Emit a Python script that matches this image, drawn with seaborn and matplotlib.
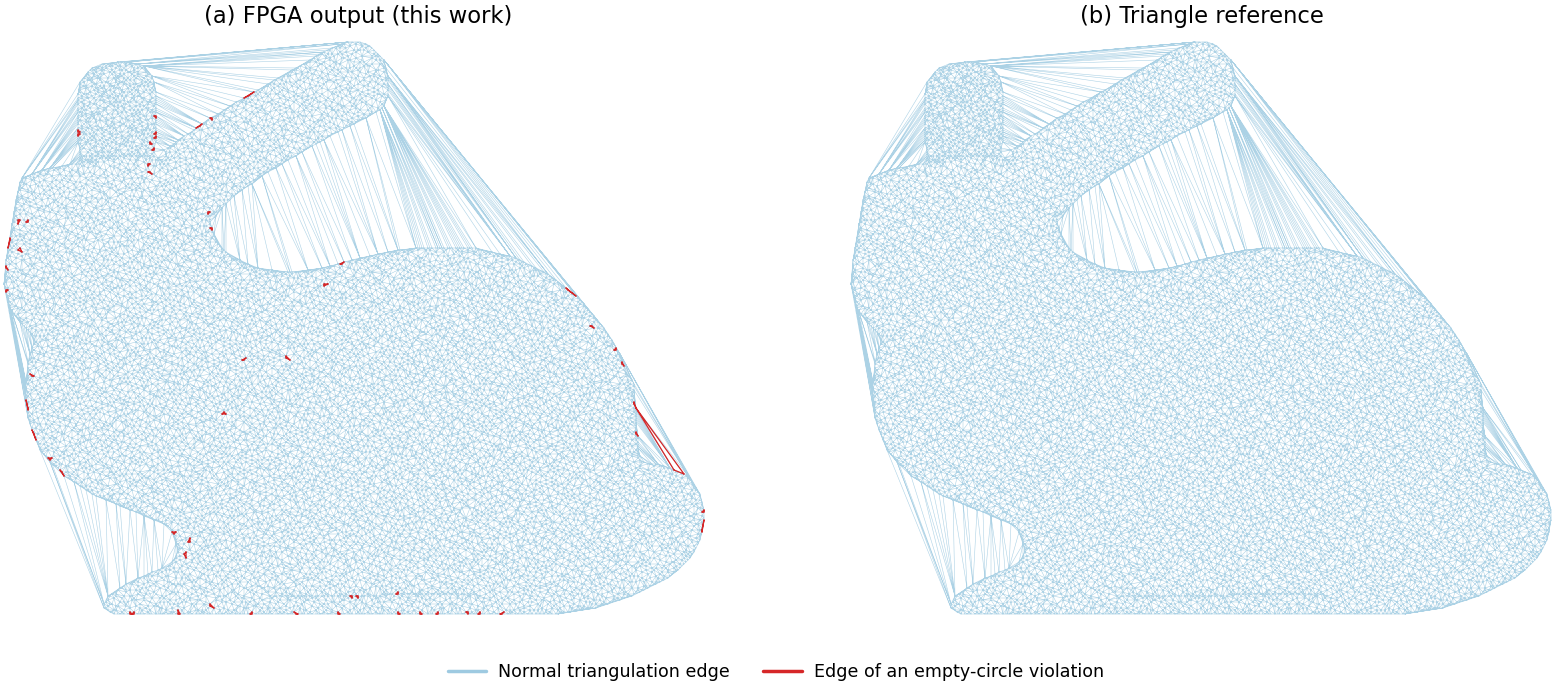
import numpy as np
import matplotlib
matplotlib.use("Agg")
import matplotlib.pyplot as plt
import matplotlib.tri as mtri
from matplotlib.path import Path
from matplotlib.lines import Line2D
import seaborn as sns

sns.set_theme(style="white")
plt.rcParams['font.family'] = ['DejaVu Sans']
plt.rcParams['text.color'] = 'black'

# ---------------- data (outline, pixel units, y down) ----------------
body_outline = [(22,178),(45,170),(75,164),(110,159),(150,157),(178,163),(198,178),(207,198),
                (210,222),(216,242),(232,258),(258,269),(290,273),(322,269),(355,260),(395,251),
                (435,247),(475,249),(515,258),(550,276),(580,300),(603,327),(619,354),(629,382),
                (635,412),(637,440),(640,462),(665,466),(688,477),(700,494),(704,515),(700,540),
                (688,561),(665,579),(632,595),(595,607),(560,613),(480,614),(380,614),(250,614),
                (150,614),(112,613),(104,607),(108,597),(122,587),(148,574),(170,566),(178,553),
                (176,537),(166,524),(135,511),(97,496),(65,476),(42,452),(30,425),(26,395),
                (28,365),(35,337),(22,325),(10,308),(5,285),(7,258),(12,230),(17,200)]
back_ear_outline = [(80,160),(78,130),(78,100),(81,82),(90,70),(105,64),(125,62),(143,66),
                    (152,76),(156,95),(156,125),(154,160)]
front_ear_outline = [(168,160),(165,150),(185,136),(215,116),(250,95),(290,72),(325,52),(345,43),
                     (360,42),(373,48),(383,60),(388,78),(388,96),(382,108),(368,116),(335,133),
                     (295,155),(260,177),(232,197),(215,215),(205,210)]
seams = [[(270,596),(380,595),(480,594)], [(80,157),(120,156),(154,157)],
         [(633,380),(636,420),(639,460)]]

# sites of empty-circle violations in panel (a)
violation_sites = [(78,125),(80,131),(150,120),(151,130),(152,140),(153,150),(155,165),(150,176),
                   (196,130),(243,95),(212,112),(207,213),(212,226),(25,218),(22,226),(16,242),
                   (12,265),(9,290),(27,372),(30,400),(40,436),(55,455),(67,470),(246,362),
                   (293,357),(222,417),(325,282),(345,265),(570,297),(590,320),(610,345),
                   (628,365),(633,410),(636,440),(700,510),(697,525),(188,545),
                   (185,556),(180,532),(125,611),(140,612),(182,610),(212,612),(252,612),
                   (300,612),(332,613),(350,595),(362,596),(395,597),(402,610),(420,612),
                   (442,610),(462,612),(482,610),(500,607),(155,146),(150,160),(20,250)]
long_violation_sites = [(655,438)]

n_candidates = 21000
n_dense_ear = 300
grid_step = 2.0
edge_blue = "#9ecae1"
edge_red = "#d62728"

# ---------------- build point set ----------------
def halton(start, n, base):
    out = np.zeros(n)
    i = np.arange(start, start + n)
    f = 1.0
    while np.any(i > 0):
        f = f / base
        out += f * (i % base)
        i = i // base
    return out

polys = [np.array(p, float) for p in (body_outline, back_ear_outline, front_ear_outline)]
paths = [Path(np.vstack([p, p[:1]]), closed=True) for p in polys]

def inside_any(q):
    m = np.zeros(len(q), bool)
    for pth in paths:
        m |= pth.contains_points(q)
    return m

x0, x1, y0, y1 = 0, 710, 35, 620
cand = np.column_stack([x0 + (x1 - x0) * halton(1, n_candidates, 2),
                        y0 + (y1 - y0) * halton(1, n_candidates, 3)])
pts = [cand[inside_any(cand)]]

# back ear is sampled more densely
be = polys[1]
bx0, by0 = be.min(0)
bx1, by1 = be.max(0)
cand2 = np.column_stack([bx0 + (bx1 - bx0) * halton(1, n_dense_ear, 5),
                         by0 + (by1 - by0) * halton(1, n_dense_ear, 7)])
pts.append(cand2[paths[1].contains_points(cand2)])

def sample_polyline(vs, step, closed):
    vs = np.array(vs, float)
    if closed:
        vs = np.vstack([vs, vs[:1]])
    out = []
    for a, b in zip(vs[:-1], vs[1:]):
        L = np.hypot(*(b - a))
        k = max(int(L / step), 1)
        t = np.arange(k) / k
        out.append(a + t[:, None] * (b - a))
    return np.vstack(out)

for i, p in enumerate(polys):
    bp = sample_polyline(p, 2.5, True)
    keep = np.ones(len(bp), bool)
    for j, pth in enumerate(paths):
        if j != i:
            keep &= ~pth.contains_points(bp, radius=-2.0) & ~pth.contains_points(bp, radius=2.0)
    pts.append(bp[keep])
for s in seams:
    pts.append(sample_polyline(s, 3.0, False))

pts = np.vstack(pts)
pts = np.round(pts / grid_step) * grid_step
pts = np.unique(pts, axis=0)

tri = mtri.Triangulation(pts[:, 0], pts[:, 1])
T = tri.triangles
P = pts[T]
cent = P.mean(axis=1)
area = 0.5 * np.abs((P[:, 1, 0] - P[:, 0, 0]) * (P[:, 2, 1] - P[:, 0, 1])
                    - (P[:, 2, 0] - P[:, 0, 0]) * (P[:, 1, 1] - P[:, 0, 1]))
maxedge = np.max(np.linalg.norm(P - np.roll(P, 1, axis=1), axis=2), axis=1)

# red edges: small triangles at the violation sites
sel = []
small = np.where(maxedge < 14)[0]
for s in np.array(violation_sites, float):
    d = np.hypot(*(cent[small] - s).T)
    near = small[d < 7]
    if len(near) == 0:
        near = small[[np.argmin(d)]]
    sel.append(near[np.argmin(area[near])])
finder = tri.get_trifinder()
for s in long_violation_sites:
    k = finder(s[0], s[1])
    if k >= 0:
        sel.append(int(k))
red_tri = mtri.Triangulation(pts[:, 0], pts[:, 1], triangles=T[np.unique(sel)])

# ---------------- figure ----------------
W, H = 1554, 685
fig = plt.figure(figsize=(W / 100, H / 100), dpi=100)
ax_a = fig.add_axes([0, 0, 777 / W, 1])
ax_b = fig.add_axes([777 / W, 0, 777 / W, 1])
ax_a.set_xlim(0, 777)
ax_b.set_xlim(777 - 847, W - 847)
for ax in (ax_a, ax_b):
    ax.set_ylim(H, 0)
    ax.axis("off")
    ax.triplot(tri, color=edge_blue, lw=0.4, alpha=0.85)
ax_a.triplot(red_tri, color=edge_red, lw=0.9)

ax_a.text(358, 16, "(a) FPGA output (this work)", ha="center", va="center", fontsize=16.3, color="black")
ax_b.text(355, 16, "(b) Triangle reference", ha="center", va="center", fontsize=16.3, color="black")

handles = [Line2D([], [], color=edge_blue, lw=2.5), Line2D([], [], color=edge_red, lw=2.5)]
fig.legend(handles, ["Normal triangulation edge", "Edge of an empty-circle violation"],
           loc="center", bbox_to_anchor=(776 / W, 13 / H), ncol=2, frameon=False, fontsize=12.6,
           handlelength=2.2, handletextpad=0.7, columnspacing=1.9)

fig.savefig("out.png", dpi=100)
